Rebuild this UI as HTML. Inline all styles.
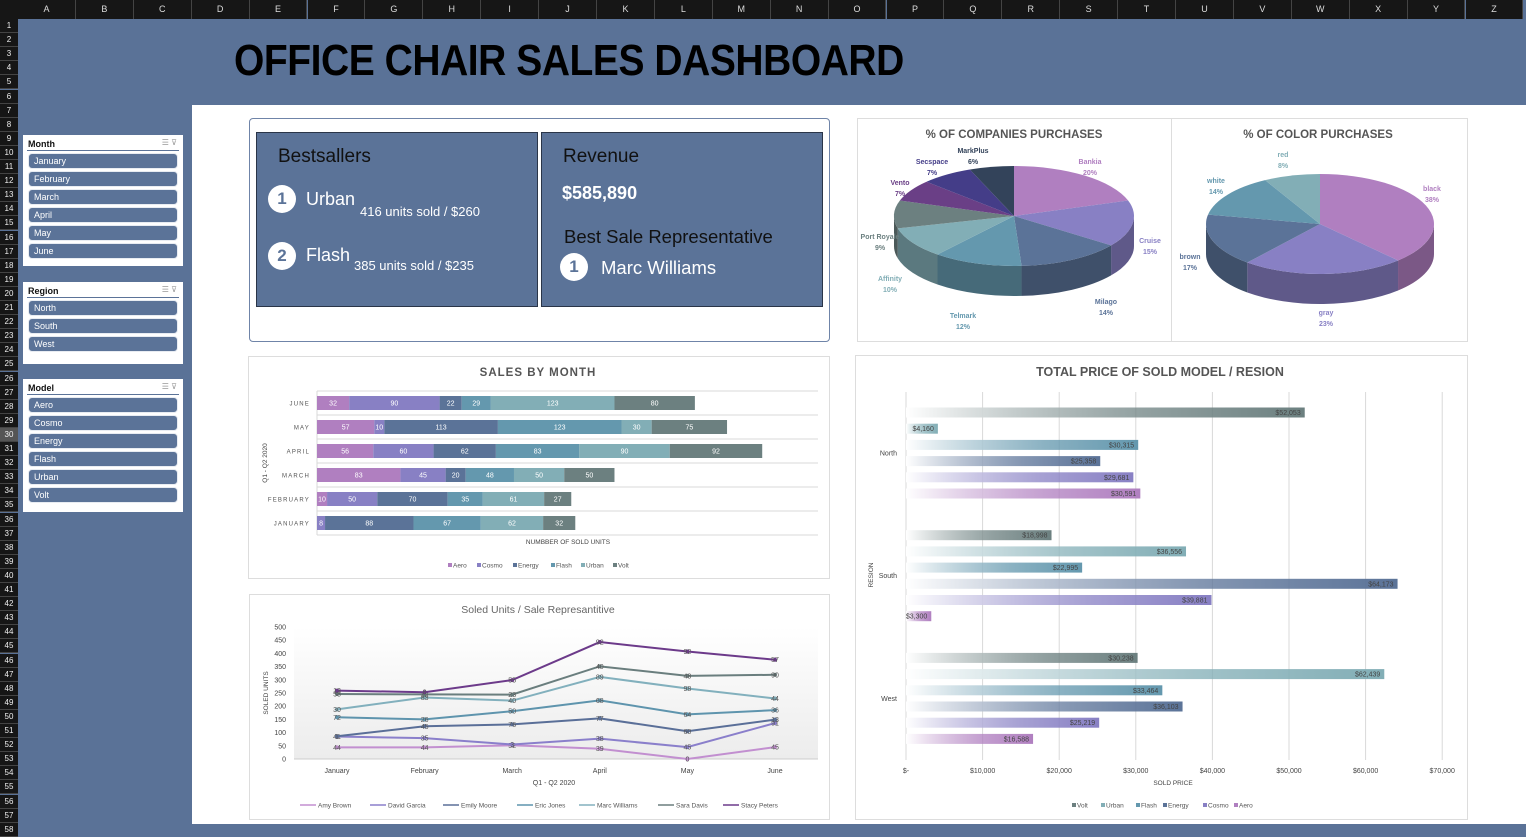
<!DOCTYPE html>
<html><head><meta charset="utf-8">
<style>
*{margin:0;padding:0;box-sizing:border-box}
body{width:1526px;height:824px;overflow:hidden;background:#5a7297;font-family:"Liberation Sans",sans-serif;position:relative}
.abs{position:absolute}
.colhdr{position:absolute;top:0;height:19px;background:#161616;color:#ddd;font-size:9px;text-align:center;line-height:19px;border-right:1px solid #444}
.rowhdr{position:absolute;left:0;width:18px;height:14px;background:#161616;color:#eee;font-size:8px;text-align:center;line-height:14px;border-bottom:1px solid #444}
.slicer{position:absolute;background:#fff;left:23px;width:160px}
.slicer .hd{position:absolute;left:5px;top:4px;font-size:9px;font-weight:bold;color:#111}
.slicer .ln{position:absolute;left:4px;right:4px;top:15px;height:1px;background:#5b7398}
.slicer .ic{position:absolute;right:6px;top:3px;font-size:8px;color:#999}
.item{position:absolute;left:5px;width:150px;height:16px;background:#5b7398;border-radius:4px;border:1px solid #e8ecf2;color:#fff;font-size:9px;line-height:14px;padding-left:5px}
.kbox{position:absolute;background:#5b7398;border:1px solid #2a3548}
.circ{position:absolute;width:28px;height:28px;border-radius:50%;background:#fff;color:#5b7398;font-weight:bold;font-size:17px;text-align:center;line-height:28px}
.t{position:absolute;white-space:nowrap}
</style></head><body>
<div class="abs" style="left:192px;top:105px;width:1334px;height:719px;background:#fff"></div>
<div class="abs" style="left:0;top:0;width:18px;height:19px;background:#161616"></div>
<div id="cols"></div><div id="rows"></div>
<div class="t" style="left:234px;top:36px;font-size:44px;font-weight:bold;color:#000;letter-spacing:-0.5px;transform:scaleX(0.886);transform-origin:0 0">OFFICE CHAIR SALES DASHBOARD</div>

<div class="slicer" style="top:135px;height:131px">
<div class="hd">Month</div><div class="ic">☰ ⊽</div><div class="ln"></div>
<div class="item" style="top:18px">January</div>
<div class="item" style="top:36px">February</div>
<div class="item" style="top:54px">March</div>
<div class="item" style="top:72px">April</div>
<div class="item" style="top:90px">May</div>
<div class="item" style="top:108px">June</div>
</div>
<div class="slicer" style="top:282px;height:82px">
<div class="hd">Region</div><div class="ic">☰ ⊽</div><div class="ln"></div>
<div class="item" style="top:18px">North</div>
<div class="item" style="top:36px">South</div>
<div class="item" style="top:54px">West</div>
</div>
<div class="slicer" style="top:379px;height:133px">
<div class="hd">Model</div><div class="ic">☰ ⊽</div><div class="ln"></div>
<div class="item" style="top:18px">Aero</div>
<div class="item" style="top:36px">Cosmo</div>
<div class="item" style="top:54px">Energy</div>
<div class="item" style="top:72px">Flash</div>
<div class="item" style="top:90px">Urban</div>
<div class="item" style="top:108px">Volt</div>
</div>

<div class="abs" style="left:249px;top:118px;width:581px;height:224px;border:1px solid #6f84a8;border-radius:4px"></div>
<div class="kbox" style="left:256px;top:132px;width:282px;height:175px"></div>
<div class="kbox" style="left:541px;top:132px;width:282px;height:175px"></div>
<div class="t" style="left:278px;top:146px;font-size:19px;color:#111">Bestsallers</div>
<div class="circ" style="left:268px;top:185px">1</div>
<div class="t" style="left:306px;top:189px;font-size:18px;color:#fff">Urban</div>
<div class="t" style="left:360px;top:204px;font-size:13px;color:#fff">416 units sold / $260</div>
<div class="circ" style="left:268px;top:242px">2</div>
<div class="t" style="left:306px;top:245px;font-size:18px;color:#fff">Flash</div>
<div class="t" style="left:354px;top:258px;font-size:13px;color:#fff">385 units sold / $235</div>
<div class="t" style="left:563px;top:146px;font-size:19px;color:#111">Revenue</div>
<div class="t" style="left:562px;top:183px;font-size:18px;font-weight:bold;color:#fff">$585,890</div>
<div class="t" style="left:564px;top:226px;font-size:18.5px;color:#111">Best Sale Representative</div>
<div class="circ" style="left:560px;top:253px">1</div>
<div class="t" style="left:601px;top:257px;font-size:18.5px;color:#fff">Marc Williams</div>

<div class="abs" style="left:248px;top:356px;width:582px;height:223px;border:1px solid #ddd"></div>
<div class="abs" style="left:249px;top:594px;width:581px;height:226px;border:1px solid #ddd"></div>
<div class="abs" style="left:857px;top:118px;width:611px;height:224px;border:1px solid #ddd"></div>
<div class="abs" style="left:1171px;top:118px;width:1px;height:224px;background:#ddd"></div>
<div class="abs" style="left:855px;top:355px;width:613px;height:465px;border:1px solid #ddd"></div>

<svg id="svg" class="abs" style="left:0;top:0" width="1526" height="824" font-family="Liberation Sans, sans-serif"></svg>

<script>
// ---- sales by month data ----
const monthCats = ['JANUARY','FEBRUARY','MARCH','APRIL','MAY','JUNE'];
const modelNames = ['Aero','Cosmo','Energy','Flash','Urban','Volt'];
const aeroUnits = [0,10,83,56,57,32];
const cosmoUnits = [8,50,45,60,10,90];
const energyUnits = [88,70,20,62,113,22];
const flashUnits = [67,35,48,83,123,29];
const urbanUnits = [62,61,50,90,30,123];
const voltUnits = [32,27,50,92,75,80];
// ---- soled units per rep ----
const lineMonths = ['January','February','March','April','May','June'];
const repNames = ['Amy Brown','David Garcia','Emily Moore','Eric Jones','Marc Williams','Sara Davis','Stacy Peters'];
const amyUnits = [44,44,52,39,0,45];
const davidUnits = [41,35,3,38,45,91];
const emilyUnits = [1,45,76,77,60,13];
const ericUnits = [72,26,50,68,64,36];
const marcUnits = [30,83,40,89,98,44];
const saraUnits = [58,12,23,40,48,90];
const stacyUnits = [13,8,55,92,92,57];
const lineTicks = [0,50,100,150,200,250,300,350,400,450,500];
// ---- price by region ----
const regionNames = ['North','South','West'];
const priceSeries = ['Volt','Urban','Flash','Energy','Cosmo','Aero'];
const northPrice = [52053,4160,30315,25358,29681,30591];
const southPrice = [18998,36556,22995,64173,39881,3300];
const westPrice = [30238,62439,33464,36103,25219,16588];
const priceTicks = [0,10000,20000,30000,40000,50000,60000,70000];
const priceTickLabels = ['$-','$10,000','$20,000','$30,000','$40,000','$50,000','$60,000','$70,000'];
// ---- pies ----
const companyNames = ['Bankia','Cruise','Milago','Telmark','Affinity','Port Royale','Vento','Secspace','MarkPlus'];
const companyPct = [20,15,14,12,10,9,7,7,6];
const colorNames = ['black','gray','brown','white','red'];
const colorPct = [38,23,17,14,8];

const NS='http://www.w3.org/2000/svg';
const svg=document.getElementById('svg');
function mk(tag,attrs,parent){const e=document.createElementNS(NS,tag);for(const k in attrs)e.setAttribute(k,attrs[k]);(parent||svg).appendChild(e);return e;}
function txt(s,attrs,parent){const e=mk('text',attrs,parent);e.textContent=s;return e;}
const modelColors=['#b07fc0','#8880c4','#5b7398','#6498ae','#82aeb6','#6c8080'];

// headers
const cols=document.getElementById('cols');
'ABCDEFGHIJKLMNOPQRSTUVWXYZ'.split('').forEach((c,i)=>{const d=document.createElement('div');d.className='colhdr';d.style.left=(18+i*57.9)+'px';d.style.width='57.9px';d.textContent=c;


cols.appendChild(d);});
const rows=document.getElementById('rows');
for(let i=1;i<=58;i++){const d=document.createElement('div');d.className='rowhdr';d.style.top=(19+(i-1)*14.1)+'px';d.textContent=i;if(i===30){d.style.background='#555';}


rows.appendChild(d);}

// ===== Sales by month =====
(function(){
const g=mk('g',{});


const x0=317,sc=1.005;const xs=v=>x0+v*sc;const ys=i=>523-i*24;
const t=txt('SALES BY MONTH',{x:538,y:376,'text-anchor':'middle','font-size':11.5,'font-weight':'bold',fill:'#555','letter-spacing':1},g);


for(let i=0;i<=6;i++){const l=mk('line',{x1:x0,x2:818,y1:535-i*24,y2:535-i*24,stroke:'#d9d9d9'},g);

}
mk('line',{x1:x0,x2:x0,y1:391,y2:535,stroke:'#d9d9d9'},g);
const series=[aeroUnits,cosmoUnits,energyUnits,flashUnits,urbanUnits,voltUnits];
monthCats.forEach((m,i)=>{
 const lab=txt(m,{x:310,y:ys(i)+2.5,'text-anchor':'end','font-size':6,fill:'#555','letter-spacing':1.2},g);
 
 
 let acc=0;
 series.forEach((s,k)=>{const v=s[i];if(!v)return;
  const r=mk('rect',{x:xs(acc),y:ys(i)-7,width:v*sc,height:14,fill:modelColors[k]},g);
  
  
  const vl=txt(String(v),{x:xs(acc+v/2),y:ys(i)+2.5,'text-anchor':'middle','font-size':7,fill:'#fff'},g);
  
  
  acc+=v;});
});
const xt=txt('NUMBBER OF SOLD UNITS',{x:568,y:544,'text-anchor':'middle','font-size':6.5,fill:'#444'},g);


const yt=txt('Q1 - Q2 2020',{x:0,y:0,transform:'translate(267,463) rotate(-90)','text-anchor':'middle','font-size':6.5,fill:'#444'},g);


const lx=[448,477,513,551,581,613];
modelNames.forEach((n,k)=>{const r=mk('rect',{x:lx[k],y:563,width:4,height:4,fill:modelColors[k]},g);
 
 
 const tt=txt(n,{x:lx[k]+5,y:567.5,'font-size':6.5,fill:'#555'},g);
 
 });
})();

// ===== Line chart =====
(function(){
const g=mk('g',{});


const defs=mk('defs',{},g);
const lg=mk('linearGradient',{id:'plotbg',x1:0,y1:0,x2:0,y2:1},defs);
mk('stop',{offset:0,'stop-color':'#ffffff'},lg);mk('stop',{offset:1,'stop-color':'#ececec'},lg);
mk('rect',{x:294,y:627,width:524,height:132,fill:'url(#plotbg)'},g);
const xs=i=>337+i*87.6, ys=v=>759-v*0.264;
const t=txt('Soled Units / Sale Represantitive',{x:538,y:613,'text-anchor':'middle','font-size':10.5,fill:'#666'},g);


lineTicks.forEach(v=>{const tt=txt(String(v),{x:286,y:ys(v)+2.5,'text-anchor':'end','font-size':7,fill:'#444'},g);
 
 });
mk('line',{x1:294,x2:818,y1:759,y2:759,stroke:'#ccc'},g);
lineMonths.forEach((m,i)=>{const tt=txt(m,{x:xs(i),y:773,'text-anchor':'middle','font-size':7,fill:'#444'},g);
 
 });
const xt=txt('Q1 - Q2 2020',{x:554,y:785,'text-anchor':'middle','font-size':7,fill:'#444'},g);


const yt=txt('SOLED UNITS',{x:0,y:0,transform:'translate(268,693) rotate(-90)','text-anchor':'middle','font-size':6.5,fill:'#444'},g);


const series=[amyUnits,davidUnits,emilyUnits,ericUnits,marcUnits,saraUnits,stacyUnits];
const cols=['#c28fd0','#8a7fcb','#5a6f98','#5e94ad','#82b0bd','#6a7e7e','#6c3a8a'];
const cum=[0,0,0,0,0,0];
series.forEach((s,k)=>{
 const pts=s.map((v,i)=>{cum[i]+=v;return [xs(i),ys(cum[i])];});
 const p=mk('polyline',{points:pts.map(q=>q.join(',')).join(' '),fill:'none',stroke:cols[k],'stroke-width':2},g);
 
 
 pts.forEach((q,i)=>{const c=mk('circle',{cx:q[0],cy:q[1],r:2,fill:cols[k]},g);
  
  
  const l=txt(String(s[i]),{x:q[0],y:q[1]+2.5,'text-anchor':'middle','font-size':7,fill:'#555'},g);
  
  });
});
const lx=[300,370,443,517,579,658,723];
repNames.forEach((n,k)=>{const l=mk('line',{x1:lx[k],x2:lx[k]+16,y1:805,y2:805,stroke:cols[k],'stroke-width':1.5},g);
 
 
 const tt=txt(n,{x:lx[k]+18,y:807.5,'font-size':6.5,fill:'#555'},g);
 
 });
})();

// ===== Price chart =====
(function(){
const g=mk('g',{});


const defs=mk('defs',{},g);
const sCols=['#6c8080','#82aeb6','#6498ae','#5b7398','#8880c4','#b07fc0'];
sCols.forEach((c,k)=>{const lg=mk('linearGradient',{id:'pg'+k,x1:0,y1:0,x2:1,y2:0},defs);
 mk('stop',{offset:0,'stop-color':'#fff'},lg);mk('stop',{offset:0.6,'stop-color':c,'stop-opacity':0.75},lg);mk('stop',{offset:1,'stop-color':c},lg);});
const xs=v=>906+v*0.00766;
const t=txt('TOTAL PRICE OF SOLD MODEL / RESION',{x:1160,y:376,'text-anchor':'middle','font-size':12.5,'font-weight':'bold',fill:'#555'},g);


priceTicks.forEach((v,i)=>{const l=mk('line',{x1:xs(v),x2:xs(v),y1:392,y2:760,stroke:'#d9d9d9'},g);
 
 
 const tt=txt(priceTickLabels[i],{x:xs(v),y:773,'text-anchor':'middle','font-size':7,fill:'#444'},g);
 
 });
const xt=txt('SOLD PRICE',{x:1173,y:785,'text-anchor':'middle','font-size':6.5,fill:'#444'},g);


const yt=txt('RESION',{x:0,y:0,transform:'translate(873,575) rotate(-90)','text-anchor':'middle','font-size':6.5,fill:'#444'},g);


const data=[northPrice,southPrice,westPrice];
regionNames.forEach((r,ri)=>{
 const cy=453+ri*122.7;
 const rl=txt(r,{x:897,y:cy+2.5,'text-anchor':'end','font-size':7,fill:'#444'},g);
 
 
 data[ri].forEach((v,k)=>{const y=cy-40.5+k*16.2;
  const b=mk('rect',{x:xs(0),y:y-5,width:xs(v)-xs(0),height:10,fill:'url(#pg'+k+')'},g);
  
  
  const l=txt('$'+v.toLocaleString('en-US'),{x:xs(v)-4,y:y+2.5,'text-anchor':'end','font-size':7,fill:'#444'},g);
  
  });
});
const lx=[1072,1101,1136,1163,1203,1234];
priceSeries.forEach((n,k)=>{const r=mk('rect',{x:lx[k],y:803,width:4,height:4,fill:sCols[k]},g);
 
 
 const tt=txt(n,{x:lx[k]+5,y:807.5,'font-size':6.5,fill:'#555'},g);
 
 });
})();

// ===== Pies =====
function darken(h,f){const n=parseInt(h.slice(1),16);const r=(n>>16)*f|0,gg=((n>>8)&255)*f|0,b=(n&255)*f|0;return 'rgb('+r+','+gg+','+b+')';}
function pie(name,cx,cy,rx,ry,depth,vals,names,colors,labelPos){
 const g=mk('g',{});
 
 
 const P=(a,dy)=>{const r=a*Math.PI/180;return [cx+rx*Math.sin(r),cy-ry*Math.cos(r)+(dy||0)];};
 const tot=vals.reduce((a,b)=>a+b,0);let a=0;const sl=vals.map(v=>{const a0=a;a+=v/tot*360;return [a0,a];});
 sl.forEach(([a0,a1],k)=>{const s=Math.max(a0,90),e=Math.min(a1,270);if(s>=e)return;
  const p1=P(s),p2=P(e),p3=P(e,depth),p4=P(s,depth);
  const p=mk('path',{d:`M${p1} A${rx} ${ry} 0 0 1 ${p2} L${p3} A${rx} ${ry} 0 0 0 ${p4} Z`,fill:darken(colors[k],0.7)},g);
  
  });
 sl.forEach(([a0,a1],k)=>{const p1=P(a0),p2=P(a1);const large=(a1-a0)>180?1:0;
  const p=mk('path',{d:`M${cx},${cy} L${p1} A${rx} ${ry} 0 ${large} 1 ${p2} Z`,fill:colors[k]},g);
  
  
  const [lx,ly]=labelPos[k];
  const t1=txt(names[k],{x:lx,y:ly,'text-anchor':'middle','font-size':7,'font-weight':'bold',fill:colors[k]},g);
  
  
  const t2=txt(vals[k]+'%',{x:lx,y:ly+11,'text-anchor':'middle','font-size':7,'font-weight':'bold',fill:colors[k]},g);
  
  });
}
const t1=txt('% OF COMPANIES PURCHASES',{x:1014,y:138,'text-anchor':'middle','font-size':11.5,'font-weight':'bold',fill:'#555'});


const t2=txt('% OF COLOR PURCHASES',{x:1318,y:138,'text-anchor':'middle','font-size':11.5,'font-weight':'bold',fill:'#555'});


pie('companies-pie',1014,216,120,50,30,companyPct,companyNames,
 ['#b07fc0','#8880c4','#5b7398','#6498ae','#82aeb6','#6c8080','#6a3f86','#443d88','#33435a'],
 [[1090,164],[1150,243],[1106,304],[963,318],[890,281],[880,239],[900,185],[932,164],[973,153]]);
pie('colors-pie',1320,224,114,50,30,colorPct,colorNames,
 ['#b07fc0','#8880c4','#5b7398','#6498ae','#82aeb6'],
 [[1432,191],[1326,315],[1190,259],[1216,183],[1283,157]]);
</script>
</body></html>
